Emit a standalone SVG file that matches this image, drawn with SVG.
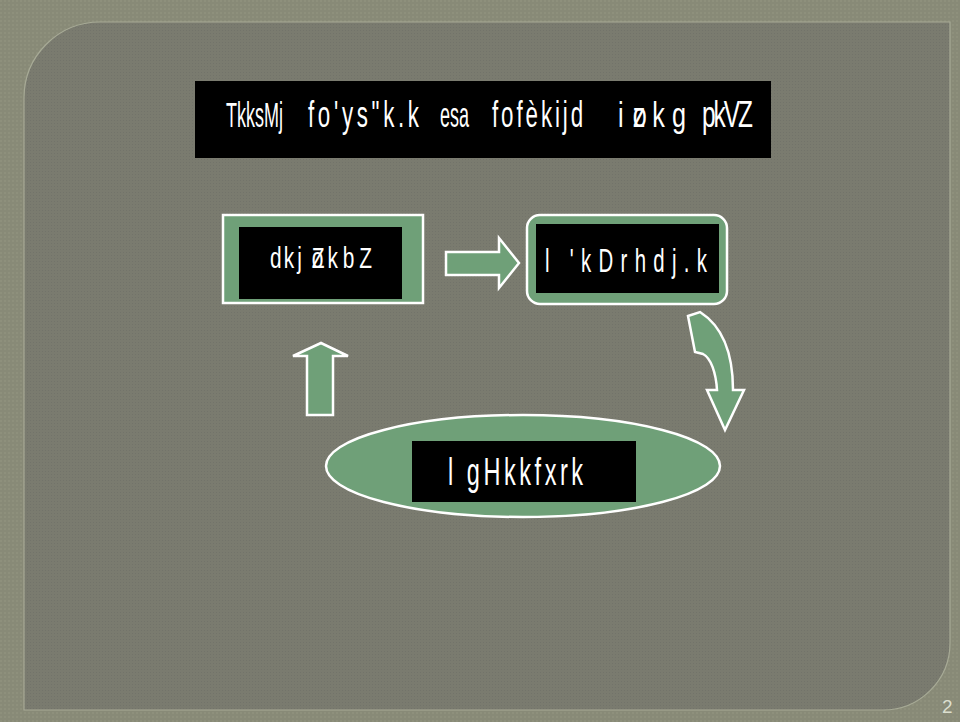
<svg xmlns="http://www.w3.org/2000/svg" width="960" height="722" viewBox="0 0 960 722">
  <defs>
    <pattern id="texOuter" width="4" height="4" patternUnits="userSpaceOnUse">
      <rect width="4" height="4" fill="#888a77"/>
      <rect x="0" y="0" width="2" height="2" fill="#8e907c"/>
    </pattern>
    <pattern id="texInner" width="3" height="3" patternUnits="userSpaceOnUse">
      <rect width="3" height="3" fill="#7a7b6f"/>
      <rect x="0" y="0" width="1" height="1" fill="#72736a"/>
    </pattern>
    <style>
      .lbl { font-family: "Liberation Sans", Arial, sans-serif; fill: #ffffff; }
      .green { fill: #6fa078; stroke: #ffffff; stroke-width: 2.5; stroke-linejoin: miter; }
      .box { fill: #000000; }
    </style>
  </defs>

  <rect x="0" y="0" width="960" height="722" fill="url(#texOuter)"/>
  <path d="M 24 710 L 24 98 A 76 76 0 0 1 100 22 L 950 22 L 950 643 A 67 67 0 0 1 883 710 Z" fill="url(#texInner)" stroke="#a7aa96" stroke-width="1.2"/>

  <g id="title">
    <rect class="box" x="195" y="81" width="576" height="77"/>
    <g class="lbl" font-size="36">
      <text transform="translate(226,127) scale(0.5,1)">TkksMj</text>
      <text transform="translate(308,127) scale(0.62,1)" textLength="179" lengthAdjust="spacing">fo'ys"k.k</text>
      <text transform="translate(440,127) scale(0.5,1)">esa</text>
      <text transform="translate(492,127) scale(0.62,1)" textLength="147" lengthAdjust="spacing">fofèkijd</text>
      <text transform="translate(618,127) scale(0.7,1)"><tspan x="0">i</tspan><tspan x="21">z</tspan><tspan x="21">o</tspan><tspan x="49">k</tspan><tspan x="77">g</tspan></text>
      <text transform="translate(702,127) scale(0.68,1)" textLength="75" lengthAdjust="spacing">pkVZ</text>
    </g>
  </g>

  <g id="node-karyavahi">
    <rect class="green" x="223" y="215" width="200" height="88"/>
    <rect class="box" x="239" y="227" width="163" height="72"/>
    <text class="lbl" transform="translate(270,268) scale(0.72,1)" font-size="29"><tspan x="0">d</tspan><tspan x="19">k</tspan><tspan x="38">j</tspan><tspan x="58">Z</tspan><tspan x="58">o</tspan><tspan x="80">k</tspan><tspan x="101">b</tspan><tspan x="124">Z</tspan></text>
  </g>

  <g id="node-sashaktikaran">
    <rect class="green" x="527" y="215" width="200" height="89" rx="13" ry="13" stroke-width="3"/>
    <rect class="box" x="536" y="224" width="183" height="69"/>
    <text class="lbl" transform="translate(545,272) scale(0.6,1)" font-size="34" textLength="270" lengthAdjust="spacing">l 'kDrhdj.k</text>
  </g>

  <g id="node-sahbhagita">
    <ellipse class="green" cx="523" cy="466" rx="197" ry="51"/>
    <rect class="box" x="412" y="441" width="224" height="61"/>
    <text class="lbl" transform="translate(448,485) scale(0.62,1)" font-size="38" textLength="218" lengthAdjust="spacing">l gHkkfxrk</text>
  </g>

  <g id="connectors">
    <path class="green" d="M 446 252 L 499 252 L 499 238 L 519 263 L 499 288 L 499 275 L 446 275 Z"/>
    <path class="green" d="M 688 316 L 700 312 C 722 326 733 352 733 390 L 744 390 L 725 430 L 707 390 L 717 390 C 716 373 711 358 703 354 L 695 352 Z" stroke-linejoin="round"/>
    <path class="green" d="M 307 415 L 307 356 L 293 356 L 321 343 L 348 356 L 333 356 L 333 415 Z"/>
  </g>

  <text x="942" y="713" font-family="'Liberation Sans', Arial, sans-serif" font-size="19" fill="#dcdfcf">2</text>
</svg>
